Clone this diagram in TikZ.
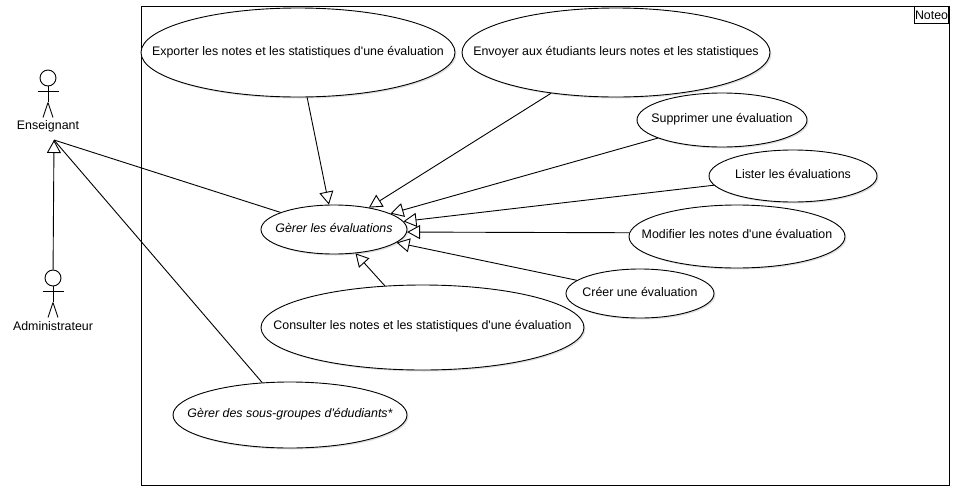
\documentclass[tikz,border=0pt]{standalone}
\usepackage{fontspec}
\setmainfont{Liberation Sans}[Ligatures=TeXOff]
\usetikzlibrary{arrows.meta,shapes.geometric,shadows}
\begin{document}
\begin{tikzpicture}[x=1pt,y=-1pt,line width=0.9pt,font=\fontsize{12.4}{14}\selectfont]
\tikzstyle{usecase}=[draw,ellipse,inner sep=0pt,fill=white,drop shadow={shadow xshift=1.5pt,shadow yshift=-1.5pt,opacity=.25}]
\tikzstyle{head}=[draw,circle,inner sep=0pt,minimum size=16pt]
\tikzstyle{generalize}=[-{Triangle[open,length=13pt,width=14pt]}]
\useasboundingbox (0,0) rectangle (954,488);
  \draw (141,6) rectangle (949,485);
  \node[draw,anchor=north east,inner sep=0pt,minimum width=34pt,minimum height=17pt] (noteo) at (949,6) {Noteo};
  \foreach \place/\w/\h/\up/\name/\txt in {{(298,52.5)/314/89/2/exporter/Exporter les notes et les statistiques d'une évaluation},
                            {(616,52.5)/308/89/2/envoyer/Envoyer aux étudiants leurs notes et les statistiques},
                            {(722,120)/170/54/4/supprimer/Supprimer une évaluation},
                            {(793,176)/168/52/5/lister/Lister les évaluations},
                            {(737,236.5)/216/63/5/modifier/Modifier les notes d'une évaluation},
                            {(640,293.5)/148/49/3.5/creer/Créer une évaluation},
                            {(422.5,327.5)/323/85/4.5/consulter/Consulter les notes et les statistiques d'une évaluation}}
    \node[usecase,minimum width=\w pt,minimum height=\h pt] (\name) at \place {\makebox[0pt]{\raisebox{\up pt}{\txt}}};
  \foreach \place/\w/\h/\up/\name/\txt in {{(334,229.5)/146/49/2.5/evals/Gèrer les évaluations},
                            {(290,415)/234/66/4.5/groupes/Gèrer des sous-groupes d'édudiants*}}
    \node[usecase,minimum width=\w pt,minimum height=\h pt] (\name) at \place {\makebox[0pt]{\raisebox{\up pt}{\itshape\txt}}};
  % actors
  \foreach \place/\name/\txt in {{(48,78)/ens/Enseignant},
                            {(53,278)/adm/Administrateur}}
  {
    \node[head] (\name) at \place {};
    \draw (\name.south) -- ++(0,16) coordinate (\name hip);
    \draw (\name.south) ++(-10.5,5) -- ++(21,0);
    \draw (\name hip) -- ++(-5,15) (\name hip) -- ++(5,15);
    \node (\name label) at ([yshift=-48pt]\name.center) {\txt};
  }
  \coordinate (enstip) at (54,140);
  \draw[generalize] (adm) -- (enstip);
  \foreach \source in {evals,groupes}
      \path (\source) edge (enstip);
  \foreach \source in {exporter,envoyer,supprimer,lister,creer,consulter}
      \draw[generalize] (\source) -- (evals);
  \draw[generalize] (modifier.178) -- (evals.-2);
\end{tikzpicture}
\end{document}
